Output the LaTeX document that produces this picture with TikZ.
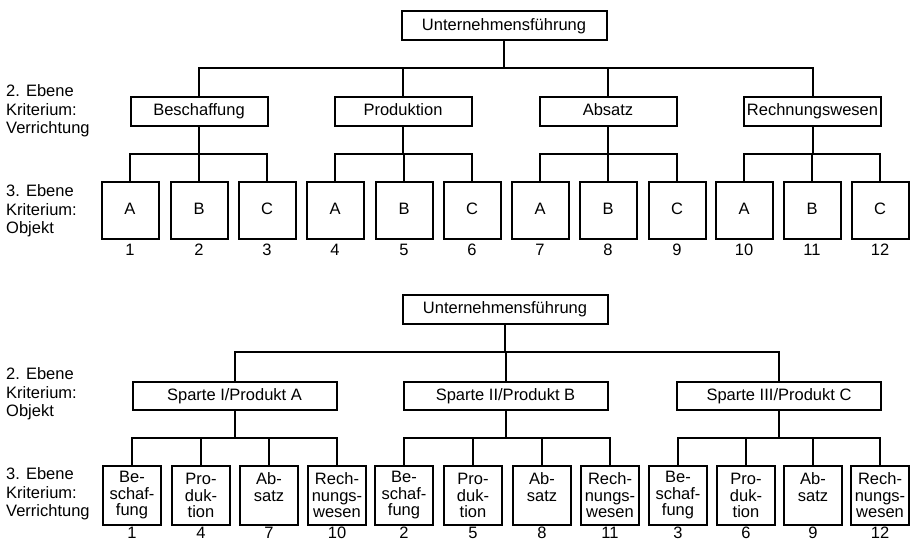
\documentclass[tikz,border=0pt]{standalone}
\usepackage{fontspec}
\setmainfont{Liberation Sans}
\begin{document}
\begin{tikzpicture}[x=1pt,y=-1pt,
  every node/.style={font=\fontsize{16.5}{18.5}\selectfont, inner sep=0pt},
  conn/.style={line width=2pt},
  single/.style={draw, line width=2pt, text height=12pt, text depth=3.5pt},
  rootbox/.style={single, minimum width=205pt, minimum height=29pt},
  lvtwo/.style={single, minimum width=137pt, minimum height=29pt},
  sparte/.style={single, minimum width=204pt, minimum height=28pt},
  obj/.style={single, minimum width=57pt, minimum height=57pt},
  verr/.style={draw, line width=2pt, minimum width=58pt, minimum height=59pt, align=center, font=\fontsize{16.5}{16.5}\selectfont},
  num/.style={text height=12pt, text depth=0pt},
  lab/.style={anchor=west, align=left}
]
\useasboundingbox (0,0) rectangle (912,540);

% ---------- upper chart ----------
\node[rootbox] (tu) at (504,26) {Unternehmensführung};
\coordinate (tbus) at (0,68);
\coordinate (tsub) at (0,154);
\node[lvtwo] (tb) at (199,111.5) {Beschaffung};
\node[lvtwo] (tp) at (403,111.5) {Produktion};
\node[lvtwo] (ta) at (608,111.5) {Absatz};
\node[lvtwo] (tr) at (812.5,111.5) {Rechnungswesen};
\foreach \c in {tb,tp,ta,tr}
  \draw[conn] (tu.south) -- (tu.south |- tbus) -| (\c.north);

\node[lab] (tl2) at (6,111) {2. Ebene\\Kriterium:\\Verrichtung};
\node[lab] (tl3) at (6,211) {3. Ebene\\Kriterium:\\Objekt};

\foreach \x/\l/\n/\p in {130/A/1/tb, 199/B/2/tb, 267/C/3/tb,
                         335/A/4/tp, 404/B/5/tp, 472/C/6/tp,
                         540/A/7/ta, 608/B/8/ta, 677/C/9/ta,
                         744/A/10/tr, 812/B/11/tr, 880/C/12/tr} {
  \node[obj] (to\n) at (\x,210.5) {\l};
  \node[num] (tn\n) at (\x,249) {\n};
  \draw[conn] (\p.south) -- (\p.south |- tsub) -| (to\n.north);
}

% ---------- lower chart ----------
\node[rootbox] (bu) at (505,309.5) {Unternehmensführung};
\coordinate (bbus) at (0,352);
\coordinate (bsub) at (0,438);
\node[sparte] (s1) at (234.5,396) {Sparte I/Produkt A};
\node[sparte] (s2) at (505.5,396) {Sparte II/Produkt B};
\node[sparte] (s3) at (779,396) {Sparte III/Produkt C};
\foreach \c in {s1,s2,s3}
  \draw[conn] (bu.south) -- (bu.south |- bbus) -| (\c.north);

\node[lab] (bl2) at (6,394) {2. Ebene\\Kriterium:\\Objekt};
\node[lab] (bl3) at (6,494) {3. Ebene\\Kriterium:\\Verrichtung};

\foreach \x/\t/\n/\p/\k in {132/{Be-\\schaf-\\fung}/1/s1/1, 201/{Pro-\\duk-\\tion}/4/s1/2,
                            269/{Ab-\\satz\\~}/7/s1/3, 337/{Rech-\\nungs-\\wesen}/10/s1/4,
                            404/{Be-\\schaf-\\fung}/2/s2/5, 473/{Pro-\\duk-\\tion}/5/s2/6,
                            542/{Ab-\\satz\\~}/8/s2/7, 610/{Rech-\\nungs-\\wesen}/11/s2/8,
                            678/{Be-\\schaf-\\fung}/3/s3/9, 746/{Pro-\\duk-\\tion}/6/s3/10,
                            813/{Ab-\\satz\\~}/9/s3/11, 880/{Rech-\\nungs-\\wesen}/12/s3/12} {
  \node[verr] (bv\k) at (\x,495.5) {\t};
  \node[num] (bn\k) at (\x,532.5) {\n};
  \draw[conn] (\p.south) -- (\p.south |- bsub) -| (bv\k.north);
}
\end{tikzpicture}
\end{document}
